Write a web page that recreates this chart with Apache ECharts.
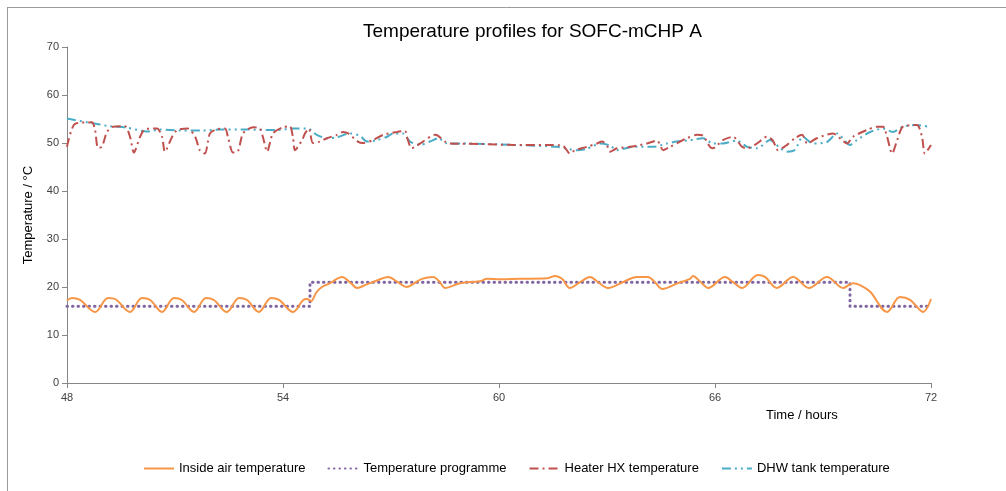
<!DOCTYPE html>
<html>
<head>
<meta charset="utf-8">
<script src="https://cdn.jsdelivr.net/npm/echarts@6/dist/echarts.min.js"></script>
<style>
html,body{margin:0;padding:0;background:#fff;}
#chart{width:1006px;height:491px;}
</style>
</head>
<body>
<div id="chart"></div>
<script>
// ---- data (time in hours, temperature in °C) ----
var xTicks = [48, 54, 60, 66, 72];
var yTicks = [0, 10, 20, 30, 40, 50, 60, 70];

var insideAirTime = [48.0,48.14,48.36,48.78,49.14,49.36,49.75,50.08,50.31,50.64,50.97,51.19,51.53,51.86,52.08,52.44,52.78,53.0,53.33,53.67,53.89,54.28,54.56,54.67,54.78,54.92,55.08,55.31,55.64,55.86,56.06,56.31,56.56,56.92,57.19,57.44,57.61,57.86,58.17,58.36,58.5,58.92,59.47,59.67,60.03,60.58,61.33,61.56,61.75,61.97,62.25,62.53,62.75,63.03,63.44,63.83,64.14,64.33,64.53,64.97,65.31,65.39,65.58,65.81,66.28,66.5,66.75,67.19,67.39,67.72,68.17,68.61,69.11,69.56,69.83,70.03,70.31,70.78,71.14,71.42,71.78,72.0];
var insideAirTemp = [17.2,17.7,17.3,14.8,17.7,17.4,14.8,17.7,17.3,14.8,17.7,17.3,14.8,17.7,17.3,14.8,17.7,17.3,14.8,17.7,17.3,14.8,17.3,17.5,17.1,18.8,20.0,20.8,22.1,21.0,19.8,20.5,21.2,22.1,21.0,20.0,20.6,21.7,22.1,21.0,19.8,20.8,21.2,21.7,21.6,21.7,21.8,22.3,21.7,19.8,21.0,22.1,21.0,19.8,21.0,22.1,22.1,21.0,19.6,20.8,21.7,22.3,21.2,19.8,22.1,21.0,19.8,22.5,22.1,19.8,22.1,19.8,22.1,19.8,20.8,20.4,19.0,14.8,17.9,17.3,14.8,17.5];

var programmeTime = [48, 54.75, 54.75, 69.75, 69.75, 72];
var programmeTemp = [16, 16, 21, 21, 16, 16];

var heaterTime = [48.0,48.22,48.69,48.78,48.86,48.97,49.11,49.28,49.61,49.75,49.86,50.03,50.17,50.5,50.64,50.72,50.92,51.06,51.36,51.56,51.69,51.83,51.97,52.17,52.39,52.47,52.61,52.75,52.89,53.17,53.36,53.44,53.56,53.72,54.0,54.19,54.28,54.33,54.53,54.61,54.72,54.83,55.03,55.22,55.5,55.67,55.81,56.08,56.22,56.5,56.78,57.17,57.39,57.44,57.58,57.89,58.22,58.31,58.5,58.64,59.47,60.39,61.33,61.78,61.97,62.11,62.44,62.72,62.86,63.0,63.08,63.28,63.64,64.11,64.39,64.56,64.75,65.03,65.22,65.5,65.67,65.86,65.94,66.22,66.5,66.75,66.89,67.17,67.44,67.61,67.75,68.0,68.22,68.42,68.56,68.83,69.28,69.53,69.67,69.83,70.22,70.5,70.67,70.78,70.92,71.06,71.22,71.61,71.75,71.83,72.0];
var heaterTemp = [49.2,54.0,54.3,52.7,49.0,49.2,52.3,53.4,53.5,51.3,48.0,51.3,52.9,53.0,51.3,48.2,51.3,52.7,53.0,51.3,48.5,47.8,52.0,52.9,53.0,51.3,48.0,48.3,52.0,53.3,53.0,51.3,48.2,52.0,53.3,53.5,51.0,48.5,50.6,52.0,53.0,50.0,50.3,51.0,51.7,52.3,52.0,50.3,50.0,50.6,51.7,52.3,52.5,51.3,48.9,50.3,51.7,51.5,50.3,49.9,49.8,49.6,49.6,49.4,47.8,48.5,49.2,49.9,50.3,49.5,48.2,48.9,49.2,49.9,50.5,48.5,49.2,50.3,51.0,51.7,51.5,49.2,48.9,50.6,51.3,49.2,48.9,49.9,51.3,50.5,48.5,49.6,51.0,51.7,49.9,51.0,52.0,50.6,49.9,51.3,52.7,53.4,53.4,51.3,47.8,50.6,53.4,53.75,51.3,47.8,49.6];

var dhwTime = [48.0,48.64,49.19,49.67,50.22,50.58,51.14,51.78,52.25,53.0,53.83,54.28,54.69,54.94,55.22,55.5,55.86,56.14,56.33,56.61,56.89,57.06,57.33,57.53,57.81,58.08,58.31,58.56,59.0,60.39,61.61,62.17,62.44,62.81,63.08,63.28,63.72,64.28,64.67,64.94,65.31,65.67,65.94,66.22,66.61,66.89,67.17,67.53,67.81,68.0,68.22,68.44,68.72,69.11,69.39,69.75,69.94,70.31,70.67,70.94,71.22,71.61,72.0];
var dhwTemp = [55.1,54.2,53.5,53.2,52.4,52.8,52.6,52.6,52.8,52.8,52.7,53.0,53.0,51.7,51.0,51.2,52.0,51.5,50.3,50.6,51.3,52.0,52.0,50.3,49.6,50.3,51.0,49.9,49.9,49.6,49.2,48.5,48.8,49.9,49.5,48.5,49.2,49.2,49.9,50.3,50.6,51.0,49.9,49.9,50.5,49.2,48.9,50.6,48.9,48.2,48.6,51.3,49.9,50.2,52.0,49.6,50.6,52.3,53.0,52.3,53.4,53.75,53.3];

var seriesNames = ['Inside air temperature', 'Temperature programme', 'Heater HX temperature', 'DHW tank temperature'];

function pairs(t, v) { return t.map(function (x, i) { return [x, v[i]]; }); }

var FONT = '"Liberation Sans", Arial, sans-serif';
var chart = echarts.init(document.getElementById('chart'), null, {renderer: 'canvas'});
chart.setOption({
  animation: false,
  backgroundColor: '#ffffff',
  title: {
    text: 'Temperature profiles for SOFC-mCHP A',
    left: 358, top: 17,
    textStyle: {fontFamily: FONT, fontSize: 19, fontWeight: 'normal', color: '#000'}
  },
  grid: {left: 67, right: 75, top: 47, bottom: 108, containLabel: false},
  legend: {
    left: 138, top: 457,
    itemWidth: 30, itemHeight: 10, itemGap: 22,
    itemStyle: {opacity: 0},
    textStyle: {fontFamily: FONT, fontSize: 13, color: '#000'},
    data: seriesNames
  },
  xAxis: {
    type: 'value', min: xTicks[0], max: xTicks[xTicks.length - 1], interval: 6,
    axisLine: {lineStyle: {color: '#868686', width: 1}},
    axisTick: {show: true, length: 5, lineStyle: {color: '#868686'}},
    axisLabel: {fontFamily: FONT, fontSize: 11, color: '#404040', margin: 9},
    splitLine: {show: false}
  },
  yAxis: {
    type: 'value', min: yTicks[0], max: yTicks[yTicks.length - 1], interval: 10,
    name: 'Temperature / °C', nameLocation: 'middle', nameGap: 32, nameRotate: 90,
    nameTextStyle: {fontFamily: FONT, fontSize: 13, color: '#000'},
    axisLine: {show: true, lineStyle: {color: '#868686', width: 1}},
    axisTick: {show: true, length: 5, lineStyle: {color: '#868686'}},
    axisLabel: {fontFamily: FONT, fontSize: 11, color: '#404040', margin: 8},
    splitLine: {show: false}
  },
  graphic: [
    {type: 'text', left: 766, top: 409, style: {text: 'Time / hours', fontFamily: FONT, fontSize: 13, fill: '#000'}},
    {type: 'line', shape: {x1: 7, y1: 7.5, x2: 1006, y2: 7.5}, style: {stroke: '#9a9a9a', lineWidth: 1}},
    {type: 'line', shape: {x1: 7.5, y1: 7, x2: 7.5, y2: 491}, style: {stroke: '#9a9a9a', lineWidth: 1}}
  ],
  series: [
    {
      name: seriesNames[0], type: 'line', data: pairs(insideAirTime, insideAirTemp),
      symbol: 'none', smooth: 0.35, z: 4,
      itemStyle: {color: '#F79646'},
      lineStyle: {color: '#F79646', width: 2}
    },
    {
      name: seriesNames[1], type: 'line', data: pairs(programmeTime, programmeTemp),
      symbol: 'none', z: 3,
      itemStyle: {color: '#8064A2'},
      lineStyle: {color: '#8064A2', width: 3, type: [0.5, 5], cap: 'round'}
    },
    {
      name: seriesNames[2], type: 'line', data: pairs(heaterTime, heaterTemp),
      symbol: 'none', smooth: 0.25, z: 2,
      itemStyle: {color: '#C0504D'},
      lineStyle: {color: '#C0504D', width: 2, type: [9, 4, 2, 4]}
    },
    {
      name: seriesNames[3], type: 'line', data: pairs(dhwTime, dhwTemp),
      symbol: 'none', smooth: 0.25, z: 1,
      itemStyle: {color: '#4BACC6'},
      lineStyle: {color: '#4BACC6', width: 2, type: [9, 4, 2, 4, 2, 4]}
    }
  ]
});
</script>
</body>
</html>
